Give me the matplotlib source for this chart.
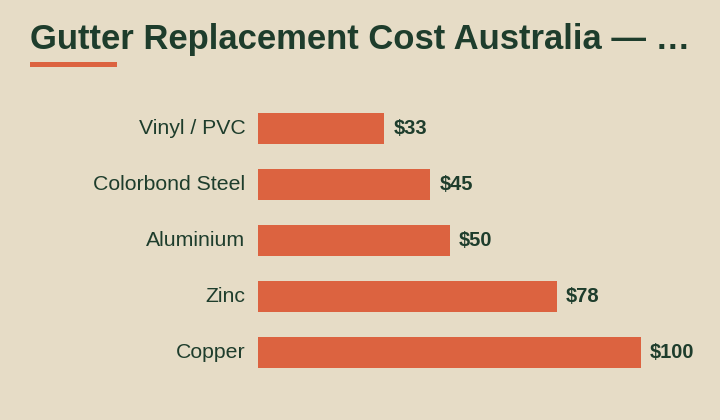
import matplotlib
matplotlib.use("Agg")
import matplotlib.pyplot as plt
from matplotlib import font_manager
from matplotlib.patches import Rectangle

categories = ["Vinyl / PVC", "Colorbond Steel", "Aluminium", "Zinc", "Copper"]
values = [33, 45, 50, 78, 100]
value_labels = ["$33", "$45", "$50", "$78", "$100"]
title = "Gutter Replacement Cost Australia — …"

BG = "#E6DCC6"
BAR = "#DC6340"
TXT = "#1E3D2C"

names = {f.name for f in font_manager.fontManager.ttflist}
title_font = "Liberation Sans Narrow" if "Liberation Sans Narrow" in names else "Liberation Sans"

fig = plt.figure(figsize=(7.2, 4.2), dpi=100, facecolor=BG)
ax = fig.add_axes([258/720, (420-380)/420, 383/720, 280/420])
ax.set_facecolor(BG)
ypos = list(range(len(categories)))
ax.barh(ypos, values, height=31/56, color=BAR)
ax.set_xlim(0, 100)
ax.set_ylim(4.5, -0.5)
for s in ax.spines.values():
    s.set_visible(False)
ax.set_xticks([])
ax.set_yticks(ypos)
ax.set_yticklabels(categories, fontsize=15.3, color=TXT, family="Liberation Sans", va="center")
ax.tick_params(axis="y", length=0, pad=9)
for y, v, lab in zip(ypos, values, value_labels):
    ax.annotate(lab, (v, y), xytext=(9, 0), textcoords="offset pixels",
                va="center", ha="left", fontsize=14.5, fontweight="bold",
                color=TXT, family="Liberation Sans")

fig.text(30/720, 1 - 49/420, title, fontsize=24.9, fontweight="bold", color=TXT,
         family=title_font, ha="left", va="baseline")
fig.patches.append(Rectangle((30/720, 1 - 67/420), 87/720, 5/420,
                             transform=fig.transFigure, color=BAR, lw=0))
fig.savefig("out.png", dpi=100, facecolor=BG)
